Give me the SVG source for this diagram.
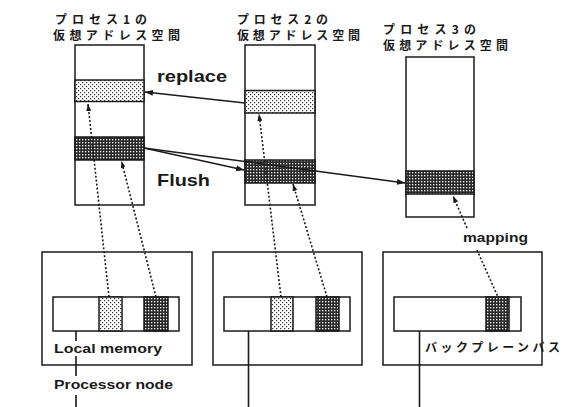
<svg xmlns="http://www.w3.org/2000/svg" width="568" height="407" viewBox="0 0 568 407">
<style>
.box{fill:#fff;stroke:#1a1a1a;stroke-width:1.5}
.light{fill:url(#lightDots);stroke:#1a1a1a;stroke-width:1.5}
.dark{fill:url(#darkDots);stroke:#1a1a1a;stroke-width:1.5}
.jp{font-family:"Noto Sans CJK JP","Noto Sans",sans-serif;font-size:12px;font-weight:bold;fill:#1a1a1a}
.en{font-family:"Liberation Sans",Arial,sans-serif;font-weight:bold;fill:#1a1a1a}
.solid{fill:none;stroke:#1a1a1a;stroke-width:1.3}
.dotted{fill:none;stroke:#1a1a1a;stroke-width:1.6;stroke-dasharray:2 2}
.bus{fill:none;stroke:#1a1a1a;stroke-width:1.6}
</style>
<defs>
<pattern id="lightDots" width="4" height="4" patternUnits="userSpaceOnUse">
<rect width="4" height="4" fill="#fff"/>
<rect x="0" y="0" width="1.2" height="1.2" fill="#333"/>
<rect x="2" y="2" width="1.2" height="1.2" fill="#333"/>
</pattern>
<pattern id="darkDots" width="3" height="3" patternUnits="userSpaceOnUse">
<rect width="3" height="3" fill="#2a2a2a"/>
<rect x="1" y="1" width="1.3" height="1.3" fill="#fff"/>
</pattern>
<marker id="arrow" viewBox="0 0 8 6" refX="8" refY="3" markerWidth="8" markerHeight="6" markerUnits="userSpaceOnUse" orient="auto">
<path d="M0,0 L8,3 L0,6 z" fill="#1a1a1a"/>
</marker>
<marker id="arrowSmall" viewBox="0 0 7 5" refX="7" refY="2.5" markerWidth="7" markerHeight="5" markerUnits="userSpaceOnUse" orient="auto">
<path d="M0,0 L7,2.5 L0,5 z" fill="#1a1a1a"/>
</marker>
</defs>
<rect width="568" height="407" fill="#fff"/>

<g id="proc1-space">
<text class="jp" x="55" y="23.5" textLength="92" lengthAdjust="spacing">プロセス1の</text>
<text class="jp" x="53" y="39.5" textLength="127" lengthAdjust="spacing">仮想アドレス空間</text>
<rect class="box" x="75" y="45" width="69" height="160"/>
<rect class="light" x="75" y="80" width="69" height="21.5"/>
<rect class="dark" x="75" y="137" width="69" height="23"/>
</g>

<g id="proc2-space">
<text class="jp" x="237" y="23.5" textLength="91" lengthAdjust="spacing">プロセス2の</text>
<text class="jp" x="237" y="39.5" textLength="123" lengthAdjust="spacing">仮想アドレス空間</text>
<rect class="box" x="245" y="45" width="70" height="160"/>
<rect class="light" x="245" y="90.5" width="70" height="22.5"/>
<rect class="dark" x="245" y="160" width="70" height="23"/>
</g>

<g id="proc3-space">
<text class="jp" x="383" y="34" textLength="93" lengthAdjust="spacing">プロセス3の</text>
<text class="jp" x="383" y="50" textLength="125" lengthAdjust="spacing">仮想アドレス空間</text>
<rect class="box" x="406" y="57" width="68" height="160"/>
<rect class="dark" x="406" y="171" width="68" height="23"/>
</g>

<g id="node1">
<rect class="box" x="42" y="252" width="150" height="113"/>
<rect class="box" x="53" y="297" width="126" height="34"/>
<rect class="light" x="99" y="297" width="23" height="34"/>
<rect class="dark" x="144" y="297" width="24" height="34"/>
<text class="en" x="54" y="353" font-size="13" textLength="108" lengthAdjust="spacingAndGlyphs">Local memory</text>
</g>

<g id="node2">
<rect class="box" x="213" y="252" width="149" height="113"/>
<rect class="box" x="224" y="297" width="126" height="34"/>
<rect class="light" x="271" y="297" width="22" height="34"/>
<rect class="dark" x="316" y="297" width="23" height="34"/>
</g>

<g id="node3">
<rect class="box" x="383" y="252" width="159" height="113"/>
<rect class="box" x="394" y="297" width="127" height="34"/>
<rect class="dark" x="486" y="297" width="23" height="34"/>
</g>

<g id="labels">
<text class="en" x="157" y="82" font-size="16" textLength="70" lengthAdjust="spacingAndGlyphs">replace</text>
<text class="en" x="157" y="186" font-size="17" textLength="53" lengthAdjust="spacingAndGlyphs">Flush</text>
<text class="en" x="463" y="242" font-size="13.5" textLength="65" lengthAdjust="spacingAndGlyphs">mapping</text>
<text class="en" x="54" y="389" font-size="13" textLength="119" lengthAdjust="spacingAndGlyphs">Processor node</text>
<text class="jp" x="425" y="352" textLength="135" lengthAdjust="spacing">バックプレーンバス</text>
</g>

<g id="connectors">
<line class="solid" x1="245" y1="103" x2="145" y2="92" marker-end="url(#arrow)"/>
<line class="solid" x1="144" y1="148" x2="244" y2="170" marker-end="url(#arrow)"/>
<line class="solid" x1="144" y1="148" x2="405" y2="183" marker-end="url(#arrow)"/>
<line class="dotted" x1="109" y1="297" x2="88" y2="104" marker-end="url(#arrowSmall)"/>
<line class="dotted" x1="156" y1="297" x2="121.5" y2="161" marker-end="url(#arrowSmall)"/>
<line class="dotted" x1="281" y1="297" x2="259" y2="114" marker-end="url(#arrowSmall)"/>
<line class="dotted" x1="327" y1="297" x2="293" y2="184" marker-end="url(#arrowSmall)"/>
<line class="dotted" x1="477" y1="250" x2="498" y2="297"/>
<line class="dotted" x1="467" y1="228" x2="453" y2="196" marker-end="url(#arrowSmall)"/>
<line class="bus" x1="76" y1="331" x2="76" y2="341"/>
<line class="bus" x1="76" y1="356" x2="76" y2="376"/>
<line class="bus" x1="76" y1="395" x2="76" y2="407"/>
<line class="bus" x1="248.5" y1="331" x2="248.5" y2="407"/>
<line class="bus" x1="419.5" y1="331" x2="419.5" y2="407"/>
</g>
</svg>
